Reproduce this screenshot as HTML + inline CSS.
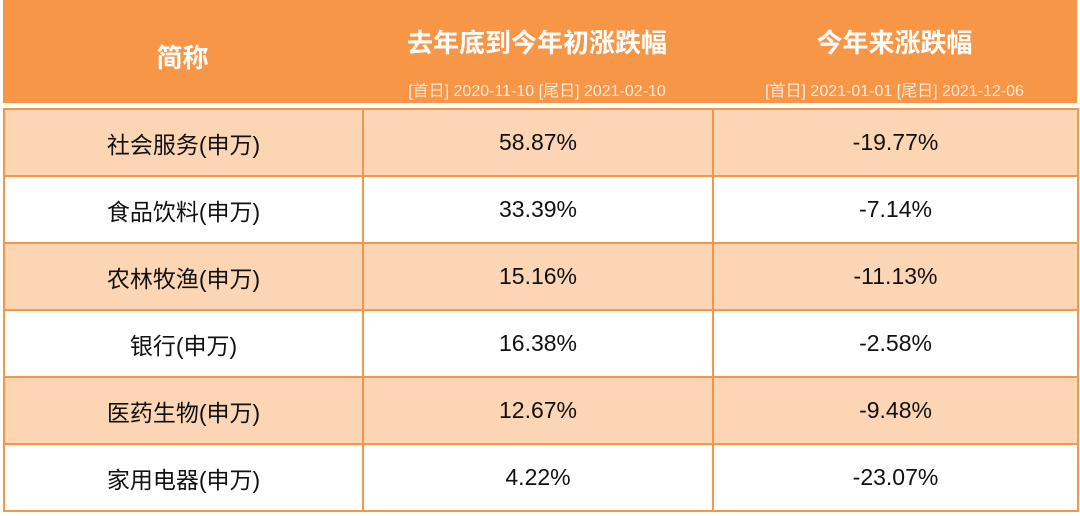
<!DOCTYPE html>
<html><head><meta charset="utf-8"><style>
body{margin:0;width:1080px;height:516px;background:#fff;font-family:"Liberation Sans","Noto Sans CJK SC",sans-serif;overflow:hidden}
.hdr{position:absolute;left:3px;top:0;width:1074px;height:103px;background:#F79646}
.h{position:absolute;color:#fff;font-weight:bold;font-size:26px;text-align:center}
.s{position:absolute;color:#fdeadb;font-size:16px;text-align:center}
table{position:absolute;left:3px;top:108px;border-collapse:collapse}
td{border:2px solid #F79646;height:65px;text-align:center;font-size:23px;color:#111;padding:0}
tr:nth-child(odd) td{background:#FCD5B4}
</style></head><body>
<div class="hdr"></div>
<div class="h" style="left:3px;width:359px;top:38px">简称</div>
<div class="h" style="left:362px;width:350px;top:23px">去年底到今年初涨跌幅</div>
<div class="s" style="left:362px;width:350px;top:77px">[首日] 2020-11-10 [尾日] 2021-02-10</div>
<div class="h" style="left:712px;width:365px;top:23px">今年来涨跌幅</div>
<div class="s" style="left:712px;width:365px;top:77px">[首日] 2021-01-01 [尾日] 2021-12-06</div>
<table>
<colgroup><col style="width:359px"><col style="width:350px"><col style="width:365px"></colgroup>
<tr><td>社会服务(申万)</td><td>58.87%</td><td>-19.77%</td></tr>
<tr><td>食品饮料(申万)</td><td>33.39%</td><td>-7.14%</td></tr>
<tr><td>农林牧渔(申万)</td><td>15.16%</td><td>-11.13%</td></tr>
<tr><td>银行(申万)</td><td>16.38%</td><td>-2.58%</td></tr>
<tr><td>医药生物(申万)</td><td>12.67%</td><td>-9.48%</td></tr>
<tr><td>家用电器(申万)</td><td>4.22%</td><td>-23.07%</td></tr>
</table>
</body></html>
